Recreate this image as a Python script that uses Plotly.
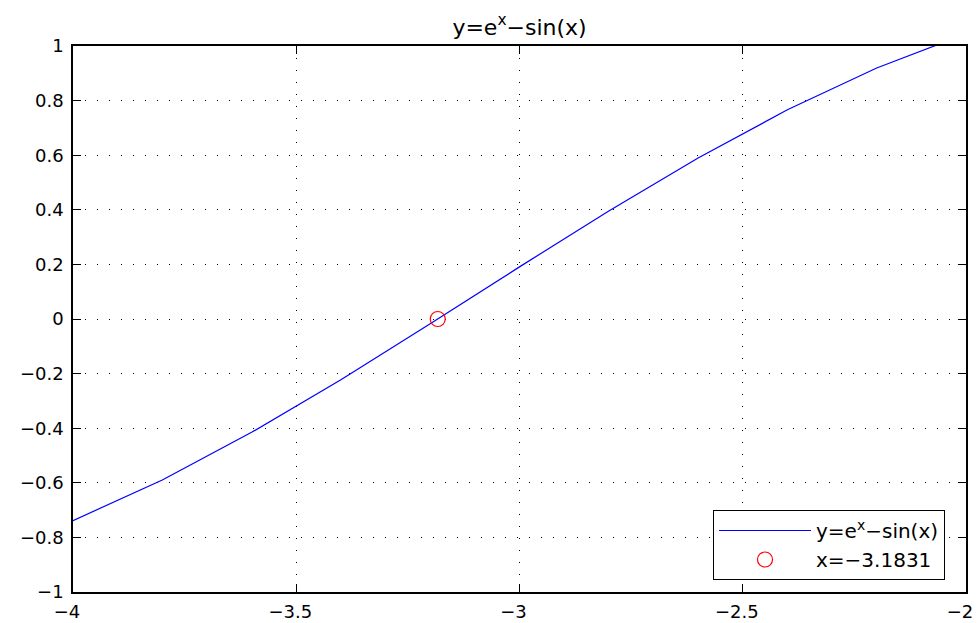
import plotly.graph_objects as go

x_vals = [-4.0, -3.8, -3.6, -3.4, -3.2, -3.0, -2.8, -2.6, -2.4, -2.2, -2.0]
y_vals = [-0.7385, -0.5895, -0.4152, -0.2222, -0.0176, 0.1909, 0.3958, 0.5898, 0.7662, 0.9193, 1.0446]

root_x = [-3.1831]
root_y = [0.0]

x_ticks = [-4, -3.5, -3, -2.5, -2]
x_tick_labels = ["\u22124", "\u22123.5", "\u22123", "\u22122.5", "\u22122"]
y_ticks = [-1, -0.8, -0.6, -0.4, -0.2, 0, 0.2, 0.4, 0.6, 0.8, 1]

FONT = "DejaVu Sans, Liberation Sans, Arial, sans-serif"

fig = go.Figure()
fig.add_trace(go.Scatter(
    x=x_vals, y=y_vals, mode="lines",
    line=dict(color="#0000ff", width=1.2),
    name="y=e<sup>x</sup>\u2212sin(x)",
))
fig.add_trace(go.Scatter(
    x=root_x, y=root_y, mode="markers",
    marker=dict(symbol="circle-open", color="#ff0000", size=15, line=dict(width=1.2, color="#ff0000")),
    name="x=\u22123.1831",
))

axis_common = dict(
    showline=True, linecolor="black", linewidth=1.5, mirror="ticks",
    ticks="inside", ticklen=8, tickcolor="black", tickwidth=1,
    showgrid=True, gridcolor="black", griddash="1px,11px", gridwidth=1,
    zeroline=False, automargin=False, ticklabeloverflow="allow",
    tickfont=dict(family=FONT, size=18, color="black"),
)

fig.update_xaxes(range=[-4, -2], tickvals=x_ticks, ticktext=x_tick_labels,
                 ticklabelstandoff=3, ticklabelshift=-6, **axis_common)
fig.update_yaxes(range=[-1, 1], tickvals=y_ticks, ticklabelstandoff=4, **axis_common)

fig.update_layout(
    width=977, height=623,
    margin=dict(l=73, r=11, t=46, b=31),
    paper_bgcolor="white", plot_bgcolor="white",
    title=dict(text="y=e<sup>x</sup>\u2212sin(x)", x=0.5, xref="paper", xanchor="center",
               y=1 - 27 / 623, yanchor="middle", automargin=False,
               font=dict(family=FONT, size=22, color="black")),
    legend=dict(
        x=(945 - 73) / 893, y=(592 - 580) / 546, xanchor="right", yanchor="bottom",
        bgcolor="white", bordercolor="black", borderwidth=1,
        font=dict(family=FONT, size=20, color="black"),
        itemwidth=92, tracegroupgap=0,
    ),
    showlegend=True,
)

fig.write_html("out.html", config={"displayModeBar": False},
               post_script="document.body.style.margin='0';document.body.style.overflow='hidden';")
